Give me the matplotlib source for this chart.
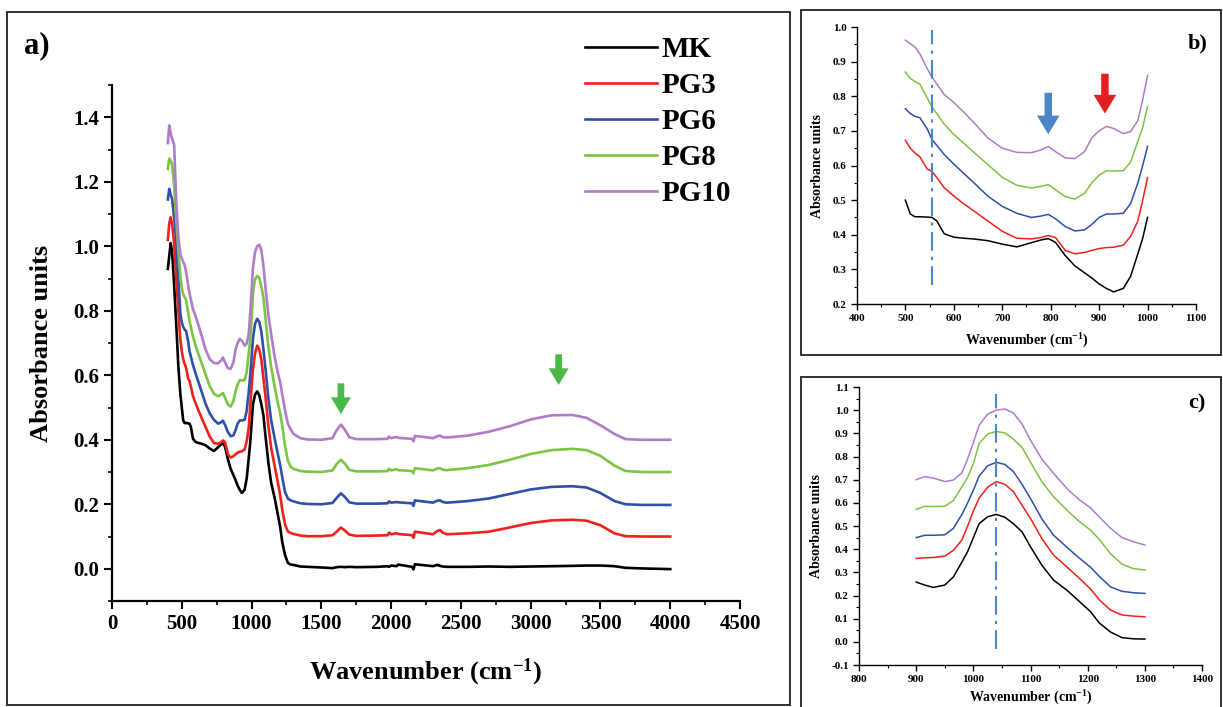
import matplotlib
matplotlib.use("Agg")
import matplotlib.pyplot as plt
import numpy as np
from matplotlib.patches import Rectangle
from matplotlib.ticker import MultipleLocator

plt.rcParams['font.family'] = ['Liberation Serif', 'DejaVu Serif']
plt.rcParams['font.weight'] = 'bold'
plt.rcParams['axes.labelweight'] = 'bold'
plt.rcParams['mathtext.fontset'] = 'custom'
plt.rcParams['mathtext.rm'] = 'Liberation Serif:bold'
plt.rcParams['mathtext.bf'] = 'Liberation Serif:bold'
plt.rcParams['mathtext.default'] = 'bf'

# FTIR spectra (wavenumber in cm-1, absorbance offset per sample)
wn = [400, 410, 420, 430, 445, 460, 475, 490,
      500, 510, 520, 530, 545, 555, 565, 580, 600, 620, 640, 670, 700, 730,
      760, 780, 795, 810, 830, 850, 870, 885, 900, 915, 930, 950, 965, 980,
      990, 1000,
      1010, 1025, 1040, 1055, 1070, 1085, 1100, 1120, 1140, 1165, 1185, 1205,
      1220, 1240, 1260, 1280, 1300,
      1350, 1400, 1500, 1580, 1610, 1640, 1670, 1700, 1750, 1900, 1975, 1985,
      2000, 2040, 2050, 2150, 2160, 2170, 2300, 2330, 2350, 2370, 2400, 2550,
      2700, 2850, 3000, 3150, 3300, 3400, 3500, 3600, 3680, 3800, 4000]

mk = [0.93, 0.97, 1.01, 0.985, 0.88, 0.76, 0.63, 0.54,
      0.50, 0.46, 0.452, 0.452, 0.451, 0.45, 0.44, 0.403, 0.393, 0.39, 0.388,
      0.383, 0.373, 0.365, 0.377, 0.385, 0.389, 0.378, 0.34, 0.31, 0.29,
      0.275, 0.258, 0.245, 0.235, 0.245, 0.28, 0.345, 0.39, 0.45,
      0.51, 0.54, 0.55, 0.538, 0.51, 0.475, 0.41, 0.33, 0.267, 0.22, 0.175,
      0.13, 0.082, 0.042, 0.018, 0.013, 0.012,
      0.007, 0.006, 0.004, 0.002, 0.005, 0.006, 0.005, 0.006, 0.005, 0.006,
      0.008, 0.006, 0.01, 0.008, 0.013, 0.006, -0.002, 0.014, 0.008, 0.012,
      0.009, 0.007, 0.006, 0.006, 0.007, 0.006, 0.007, 0.008, 0.009, 0.01,
      0.01, 0.008, 0.003, 0.001, -0.001]

pg3 = [1.02, 1.07, 1.09, 1.07, 1.01, 0.90, 0.80, 0.71,
       0.673, 0.65, 0.636, 0.625, 0.59, 0.583, 0.565, 0.536, 0.512, 0.49,
       0.47, 0.44, 0.41, 0.39, 0.388, 0.392, 0.398, 0.392, 0.355, 0.345,
       0.349, 0.355, 0.36, 0.363, 0.364, 0.37, 0.395, 0.44, 0.50, 0.565,
       0.62, 0.668, 0.692, 0.68, 0.648, 0.59, 0.532, 0.445, 0.375, 0.32,
       0.275, 0.228, 0.182, 0.137, 0.116, 0.111, 0.108,
       0.103, 0.101, 0.101, 0.104, 0.115, 0.128, 0.118, 0.106, 0.102, 0.103,
       0.104, 0.112, 0.107, 0.11, 0.108, 0.104, 0.096, 0.115, 0.107, 0.117,
       0.12, 0.112, 0.107, 0.11, 0.115, 0.128, 0.142, 0.15, 0.152, 0.149,
       0.135, 0.11, 0.101, 0.1, 0.1]

pg6 = [1.145, 1.178, 1.16, 1.148, 1.09, 1.02, 0.90, 0.79,
       0.764, 0.75, 0.742, 0.738, 0.706, 0.675, 0.658, 0.632, 0.604, 0.578,
       0.552, 0.512, 0.482, 0.462, 0.45, 0.454, 0.459, 0.446, 0.424, 0.411,
       0.414, 0.43, 0.45, 0.46, 0.46, 0.462, 0.49, 0.55, 0.60, 0.655,
       0.715, 0.76, 0.775, 0.766, 0.735, 0.68, 0.618, 0.53, 0.461, 0.405,
       0.362, 0.322, 0.283, 0.237, 0.218, 0.212, 0.209,
       0.203, 0.201, 0.2, 0.204, 0.22, 0.234, 0.222, 0.206, 0.202, 0.202,
       0.203, 0.209, 0.205, 0.207, 0.206, 0.203, 0.195, 0.212, 0.205, 0.211,
       0.212, 0.207, 0.205, 0.21, 0.218, 0.232, 0.246, 0.254, 0.256, 0.252,
       0.235, 0.21, 0.2, 0.198, 0.198]

pg8 = [1.24, 1.272, 1.265, 1.255, 1.19, 1.08, 0.988, 0.905,
       0.87, 0.852, 0.842, 0.835, 0.795, 0.768, 0.75, 0.72, 0.69, 0.665,
       0.64, 0.603, 0.566, 0.543, 0.535, 0.54, 0.545, 0.53, 0.51, 0.503,
       0.52, 0.55, 0.572, 0.585, 0.584, 0.585, 0.61, 0.67, 0.71, 0.77,
       0.855, 0.898, 0.908, 0.902, 0.875, 0.84, 0.775, 0.69, 0.627, 0.565,
       0.52, 0.482, 0.443, 0.38, 0.335, 0.316, 0.31,
       0.303, 0.301, 0.3, 0.305, 0.325, 0.338, 0.325, 0.307, 0.302, 0.302,
       0.303, 0.31, 0.305, 0.309, 0.306, 0.303, 0.296, 0.312, 0.305, 0.311,
       0.312, 0.307, 0.306, 0.312, 0.322, 0.338, 0.356, 0.368, 0.372, 0.368,
       0.35, 0.32, 0.303, 0.3, 0.3]

pg10 = [1.32, 1.375, 1.35, 1.335, 1.315, 1.14, 1.03, 0.975,
        0.962, 0.952, 0.942, 0.922, 0.88, 0.855, 0.835, 0.805, 0.782, 0.755,
        0.726, 0.68, 0.65, 0.638, 0.637, 0.645, 0.655, 0.64, 0.622, 0.62,
        0.64, 0.68, 0.70, 0.713, 0.707, 0.692, 0.698, 0.73, 0.79, 0.86,
        0.935, 0.983, 1.0, 1.005, 0.988, 0.94, 0.87, 0.788, 0.728, 0.658,
        0.614, 0.578, 0.54, 0.49, 0.45, 0.432, 0.418,
        0.405, 0.401, 0.4, 0.405, 0.43, 0.447, 0.43, 0.408, 0.402, 0.402,
        0.403, 0.41, 0.405, 0.409, 0.406, 0.403, 0.395, 0.412, 0.405, 0.411,
        0.413, 0.408, 0.407, 0.413, 0.425, 0.442, 0.463, 0.476, 0.477, 0.468,
        0.445, 0.418, 0.402, 0.4, 0.4]

labels = ['MK', 'PG3', 'PG6', 'PG8', 'PG10']
colors = ['#000000', '#f0201c', '#2f4fa8', '#7cc443', '#b07cc8']
series = [mk, pg3, pg6, pg8, pg10]

wn = np.array(wn)
xlab = r'Wavenumber (cm$^{\mathbf{-1}}$)'

fig = plt.figure(figsize=(12.23, 7.07), dpi=100)

# panel frames
for x0, y0, w, h in [(0.0057, 0.0028, 0.6402, 0.980),
                     (0.655, 0.4979, 0.3434, 0.488),
                     (0.655, -0.01, 0.3434, 0.4768)]:
    fig.add_artist(Rectangle((x0, y0), w, h, transform=fig.transFigure,
                             fill=False, lw=1.3, ec='#222222'))


def style_axes(ax, size):
    big = size > 10
    for s in ['top', 'right']:
        ax.spines[s].set_visible(False)
    for s in ['left', 'bottom']:
        ax.spines[s].set_linewidth(1.6 if big else 1.0)
    ax.tick_params(which='major', direction='out', length=6 if big else 4,
                   width=1.5 if big else 1.0, labelsize=size)
    ax.tick_params(which='minor', direction='out', length=3 if big else 2,
                   width=1.2 if big else 0.8)


def down_arrow(ax, x, y_top, y_tip, color, scale):
    ax.annotate('', xy=(x, y_tip), xytext=(x, y_top),
                arrowprops=dict(arrowstyle='simple,head_width=0.9,head_length=0.75,tail_width=0.3',
                                color=color, lw=0, mutation_scale=scale,
                                shrinkA=0, shrinkB=0))


# a) full spectra
ax = fig.add_axes([0.0916, 0.1499, 0.5135, 0.7298])
for y, c, lab in zip(series, colors, labels):
    ax.plot(wn, y, color=c, lw=1.9, label=lab)
ax.set_xlim(0, 4500)
ax.set_ylim(-0.1, 1.5)
ax.xaxis.set_major_locator(MultipleLocator(500))
ax.xaxis.set_minor_locator(MultipleLocator(250))
ax.set_yticks([0.0, 0.2, 0.4, 0.6, 0.8, 1.0, 1.2, 1.4])
ax.yaxis.set_minor_locator(MultipleLocator(0.1))
ax.yaxis.set_major_formatter(lambda v, p: f'{v:.1f}')
style_axes(ax, 15)
ax.set_xlabel(xlab, fontsize=19, labelpad=16)
ax.set_ylabel('Absorbance units', fontsize=19, labelpad=14)
down_arrow(ax, 1640, 0.575, 0.48, '#4cb848', 16)
down_arrow(ax, 3200, 0.665, 0.57, '#4cb848', 16)
fig.text(0.02, 0.935, 'a)', fontsize=22, fontweight='bold', va='center')
ax.legend(loc='upper left', bbox_to_anchor=(0.466, 0.970), bbox_transform=fig.transFigure,
          frameon=False, fontsize=21, handlelength=2.5, handletextpad=0.15,
          labelspacing=0.31, borderpad=0)

# b) 500-1000 cm-1
axb = fig.add_axes([0.7007, 0.570, 0.2772, 0.3918])
mb = (wn >= 500) & (wn <= 1000)
for y, c in zip(series, colors):
    axb.plot(wn[mb], np.array(y)[mb], color=c, lw=1.1)
axb.set_xlim(400, 1100)
axb.set_ylim(0.2, 1.0)
axb.xaxis.set_major_locator(MultipleLocator(100))
axb.xaxis.set_minor_locator(MultipleLocator(50))
axb.yaxis.set_major_locator(MultipleLocator(0.1))
axb.yaxis.set_minor_locator(MultipleLocator(0.05))
axb.yaxis.set_major_formatter(lambda v, p: f'{v:.1f}')
style_axes(axb, 8)
axb.set_xlabel(xlab, fontsize=10, labelpad=6)
axb.set_ylabel('Absorbance units', fontsize=10, labelpad=6)
axb.plot([555, 555], [0.255, 0.99], color='#4a86c8', lw=1.5, dashes=(9, 3, 1.5, 3))
down_arrow(axb, 795, 0.81, 0.69, '#4a86c8', 18)
down_arrow(axb, 912, 0.865, 0.75, '#e02020', 18)
fig.text(0.979, 0.938, 'b)', fontsize=16, fontweight='bold', ha='center', va='center')

# c) 900-1300 cm-1
axc = fig.add_axes([0.7024, 0.0594, 0.2805, 0.3932])
mc = (wn >= 900) & (wn <= 1300)
for y, c in zip(series, colors):
    axc.plot(wn[mc], np.array(y)[mc], color=c, lw=1.1)
axc.set_xlim(800, 1400)
axc.set_ylim(-0.1, 1.1)
axc.xaxis.set_major_locator(MultipleLocator(100))
axc.xaxis.set_minor_locator(MultipleLocator(50))
axc.yaxis.set_major_locator(MultipleLocator(0.1))
axc.yaxis.set_minor_locator(MultipleLocator(0.05))
axc.yaxis.set_major_formatter(lambda v, p: f'{v:.1f}')
style_axes(axc, 8)
axc.set_xlabel(xlab, fontsize=10, labelpad=3)
axc.set_ylabel('Absorbance units', fontsize=10, labelpad=6)
axc.plot([1040, 1040], [-0.03, 1.07], color='#4a86c8', lw=1.5, dashes=(9, 3, 1.5, 3))
fig.text(0.979, 0.430, 'c)', fontsize=16, fontweight='bold', ha='center', va='center')

fig.savefig('out.png', dpi=100, facecolor='white')
